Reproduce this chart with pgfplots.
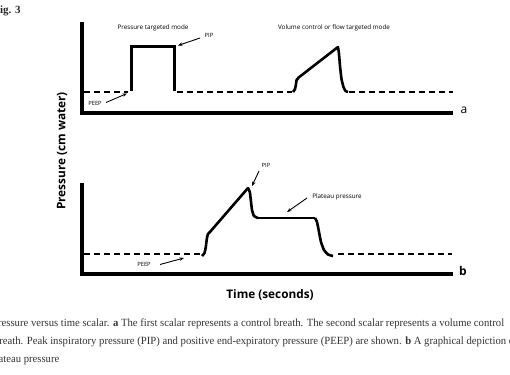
\documentclass[border=0pt]{standalone}
\usepackage{pgfplots}
\pgfplotsset{compat=1.18}
\usepackage{fontspec}
\setmainfont{Liberation Serif}
\newfontfamily\lab{Open Sans}
\usetikzlibrary{arrows.meta}
\begin{document}
\begin{tikzpicture}[x=1pt,y=1pt]
\useasboundingbox (0,0) rectangle (510,374);
\begin{axis}[at={(0,0)},anchor=south west,scale only axis,width=510pt,height=374pt,
  xmin=0,xmax=510,ymin=0,ymax=374,y dir=reverse,axis lines=none,clip=false]
% axes (L shapes)
\addplot[black,line width=4pt,line join=miter] coordinates {(82,22) (82,113) (453,113)};
\addplot[black,line width=4pt,line join=miter] coordinates {(82,183) (82,274) (453,274)};
% PEEP dashed lines
\addplot[black,line width=1.8pt,dash pattern=on 6pt off 4pt] coordinates {(84,92) (128,92)};
\addplot[black,line width=1.8pt,dash pattern=on 6pt off 4pt] coordinates {(177,92) (292,92)};
\addplot[black,line width=1.8pt,dash pattern=on 6pt off 4pt] coordinates {(349,92) (453,92)};
\addplot[black,line width=1.8pt,dash pattern=on 6pt off 4pt] coordinates {(84,254) (200,254)};
\addplot[black,line width=1.8pt,dash pattern=on 6pt off 4pt] coordinates {(338,254) (452,254)};
% pressure targeted
\addplot[black,line width=3pt,line join=miter] coordinates {(131,91) (131,47) (174,47) (174,91)};
% volume control
\addplot[black,line width=2.6pt,smooth,tension=0.35,line join=round] coordinates {(293,92) (295,89) (296,84) (296.6,80) (298.5,78)};
\addplot[black,line width=2.6pt,line join=round,line cap=round] coordinates {(298,78) (338,47)};
\addplot[black,line width=2.6pt,smooth,tension=0.35] coordinates {(338,47) (339,54) (340,66) (341.5,79) (343.5,87) (345.5,91) (348,92)};
% panel b waveform
\addplot[black,line width=2.6pt,smooth,tension=0.35] coordinates {(202,256) (204.5,253) (205.8,247) (206.8,239) (208,234) (210,232)};
\addplot[black,line width=2.6pt,line cap=round] coordinates {(209.5,232.5) (248,188)};
\addplot[black,line width=2.6pt,smooth,tension=0.35] coordinates {(248,188) (249.8,192) (250.8,200) (252,210) (254,216) (258,218)};
\addplot[black,line width=2.6pt] coordinates {(257,218) (315,218)};
\addplot[black,line width=2.6pt,smooth,tension=0.35] coordinates {(315,218) (317,222) (319,232) (321,242) (324,250) (328,254.5) (333,256)};
% arrows
\addplot[black,line width=0.9pt,-{Stealth[length=4.5pt,width=3.5pt]}] coordinates {(200,38) (178,45.5)};
\addplot[black,line width=0.9pt,-{Stealth[length=4.5pt,width=3.5pt]}] coordinates {(106,102.5) (127,93.5)};
\addplot[black,line width=0.9pt,-{Stealth[length=4.5pt,width=3.5pt]}] coordinates {(259,171) (252,186)};
\addplot[black,line width=0.9pt,-{Stealth[length=4.5pt,width=3.5pt]}] coordinates {(307,198) (287,212)};
\addplot[black,line width=0.9pt,-{Stealth[length=4.5pt,width=3.5pt]}] coordinates {(160,264.5) (184,258)};
% texts
\node[font=\lab\fontsize{6.3}{7}\selectfont] at (axis cs:153,28) {Pressure targeted mode};
\node[font=\lab\fontsize{6.3}{7}\selectfont] at (axis cs:334,28) {Volume control or flow targeted mode};
\node[font=\lab\fontsize{5.8}{7}\selectfont] at (axis cs:209,35) {PIP};
\node[font=\lab\fontsize{5.8}{7}\selectfont] at (axis cs:95,103) {PEEP};
\node[font=\lab\fontsize{5.8}{7}\selectfont] at (axis cs:266,165) {PIP};
\node[font=\lab\fontsize{6.3}{7}\selectfont] at (axis cs:337,197) {Plateau pressure};
\node[font=\lab\fontsize{5.8}{7}\selectfont] at (axis cs:144,264) {PEEP};
\node[font=\lab\bfseries\fontsize{11.8}{13}\selectfont] at (axis cs:270,295) {Time (seconds)};
\node[font=\lab\bfseries\fontsize{11.8}{13}\selectfont,rotate=90] at (axis cs:62,151) {Pressure (cm water)};
\node[font=\lab\fontsize{12}{14}\selectfont] at (axis cs:464,110) {a};
\node[font=\lab\bfseries\fontsize{12}{14}\selectfont] at (axis cs:463,271) {b};
% caption
\node[anchor=base west,inner sep=0pt,text=black!85,font=\bfseries\fontsize{11}{12}\selectfont] at (axis cs:-6.8,14) {Fig. 3};
\node[anchor=base west,inner sep=0pt,text=black!80,font=\fontsize{11}{12}\selectfont] at (axis cs:-8,326) {\scalebox{0.97}[1]{Pressure versus time scalar. \textbf{a} The first scalar represents a control breath. The second scalar represents a volume control}};
\node[anchor=base west,inner sep=0pt,text=black!80,font=\fontsize{11}{12}\selectfont] at (axis cs:-8,344) {\scalebox{0.97}[1]{Breath. Peak inspiratory pressure (PIP) and positive end-expiratory pressure (PEEP) are shown. \textbf{b} A graphical depiction of}};
\node[anchor=base west,inner sep=0pt,text=black!80,font=\fontsize{11}{12}\selectfont] at (axis cs:-10.5,362) {\scalebox{0.97}[1]{Plateau pressure}};
\end{axis}
\end{tikzpicture}
\end{document}
